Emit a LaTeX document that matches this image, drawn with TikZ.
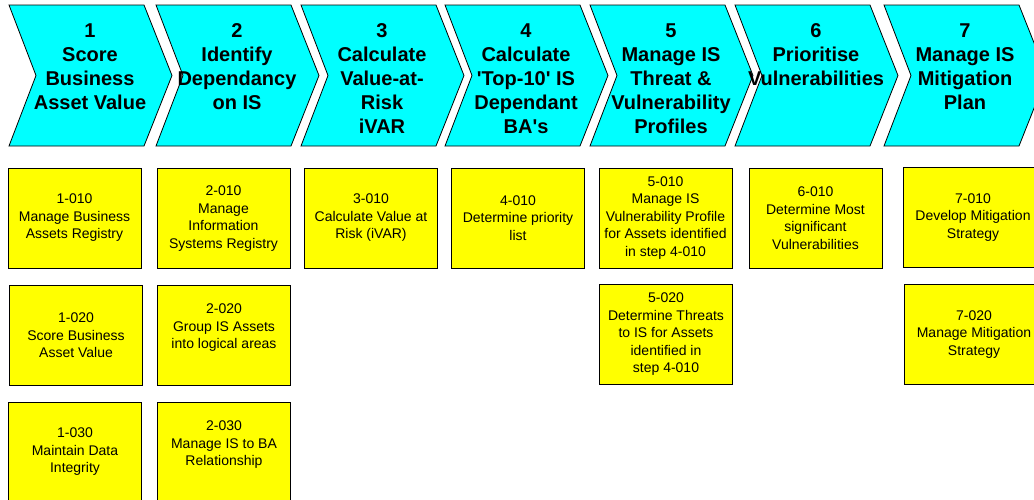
\documentclass[tikz,border=0pt]{standalone}
\usepackage{fontspec}
\setmainfont{Liberation Sans}[Ligatures=TeXOff]
\definecolor{chevcyan}{HTML}{00FFFF}
\definecolor{boxyellow}{HTML}{FFFF00}
\begin{document}
\begin{tikzpicture}[x=1pt,y=-1pt,
  chev/.style={fill=chevcyan, draw=black, line width=0.8pt, line join=miter},
  chevtext/.style={anchor=north, inner sep=0pt, align=center, text=black,
    font=\bfseries\fontsize{20}{24}\selectfont},
  ybox/.style={draw=black, fill=boxyellow, line width=1pt, minimum width=133pt,
    minimum height=100pt, inner sep=0pt, align=center, text=black,
    font=\fontsize{14}{17.5}\selectfont}]
\useasboundingbox (0,0) rectangle (1034,499);
\clip (0,0) rectangle (1034,499);
% chevrons
\foreach \L/\t [count=\i] in {
  9/{1\\Score\\Business\\Asset Value},
  156/{2\\Identify\\Dependancy\\on IS},
  301/{3\\Calculate\\Value-at-\\Risk\\iVAR},
  445/{4\\Calculate\\'Top-10' IS\\Dependant\\BA's},
  590/{5\\Manage IS\\Threat \&\\Vulnerability\\Profiles},
  735/{6\\Prioritise\\Vulnerabilities},
  884/{7\\Manage IS\\Mitigation\\Plan}} {
  \filldraw[chev] (\L,5) -- ++(135,0) -- ++(28,70.5) -- ++(-28,70.5) -- ++(-135,0) -- ++(27,-70.5) -- cycle;
  \node[chevtext] (c\i) at (\L+81,23.5) {\t};
}
% row 1
\node[ybox] (b1a) at (74.5,218) {1-010\\Manage Business\\Assets Registry};
\node[ybox] (b2a) at (223.5,218.5) {2-010\\Manage\\Information\\Systems Registry};
\node[ybox] (b3a) at (371,218) {3-010\\Calculate Value at\\Risk (iVAR)};
\node[ybox] (b4a) at (518,218) {4-010\\Determine priority\\list};
\node[ybox] (b5a) at (665.5,218) {5-010\\Manage IS\\Vulnerability Profile\\for Assets identified\\in step 4-010};
\node[ybox] (b6a) at (815.5,218) {6-010\\Determine Most\\significant\\Vulnerabilities};
\node[ybox, minimum width=140pt] (b7a) at (973,217.5) {7-010\\Develop Mitigation\\Strategy};
% row 2
\node[ybox] (b1b) at (76,335.5) {1-020\\Score Business\\Asset Value};
\node[ybox] (b2b) at (224,335) {2-020\\Group IS Assets\\into logical areas\\\mbox{}};
\node[ybox] (b5b) at (666,334.5) {5-020\\Determine Threats\\to IS for Assets\\identified in\\step 4-010};
\node[ybox, minimum width=140pt] (b7b) at (974,334.5) {7-020\\Manage Mitigation\\Strategy};
% row 3
\node[ybox] (b1c) at (75,452) {1-030\\Maintain Data\\Integrity};
\node[ybox] (b2c) at (224,452) {2-030\\Manage IS to BA\\Relationship\\\mbox{}};
\end{tikzpicture}
\end{document}
